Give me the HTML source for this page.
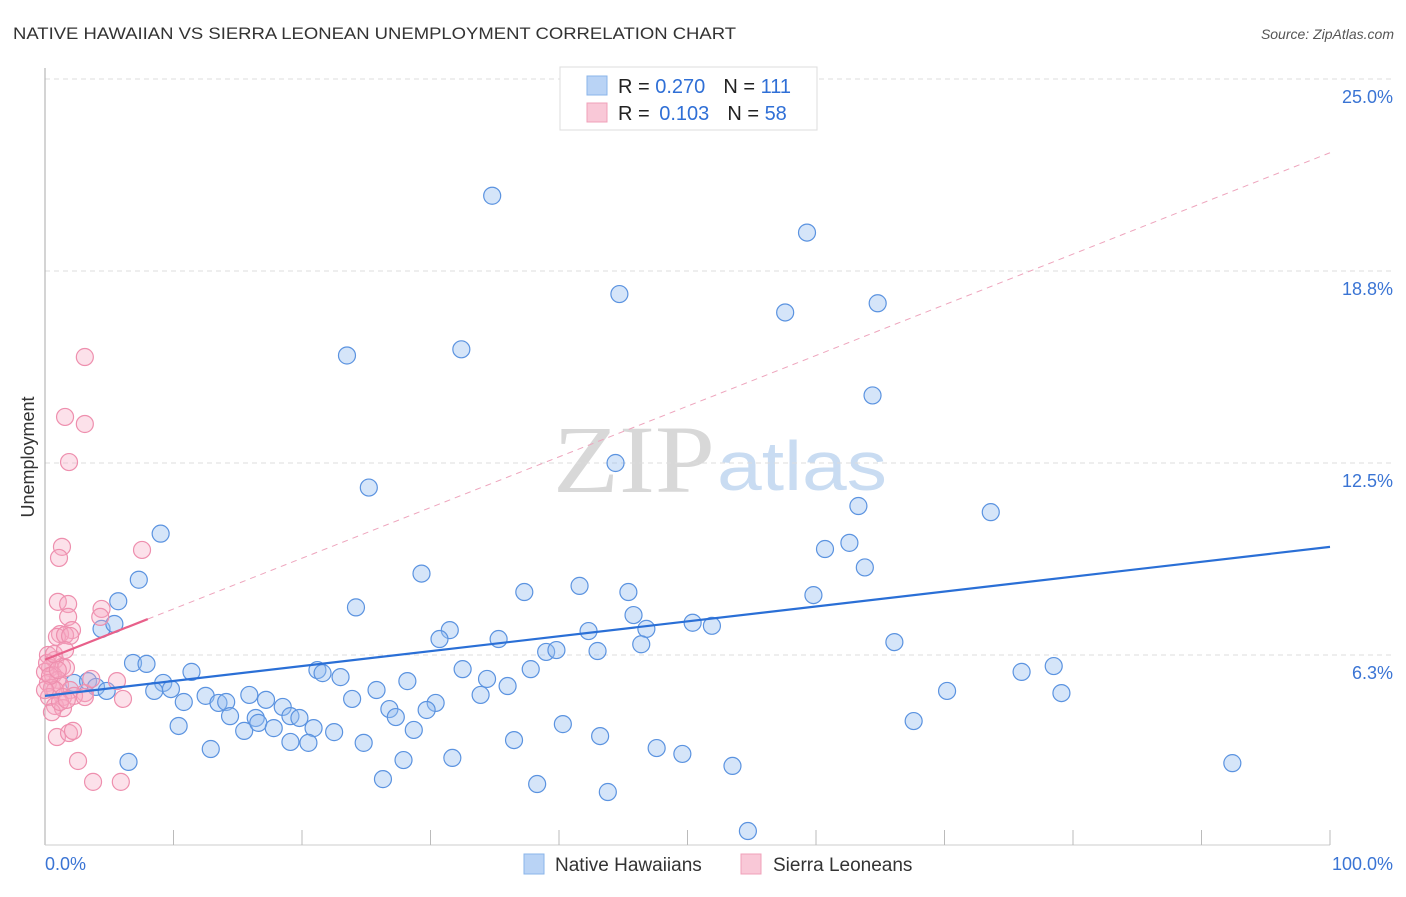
<!DOCTYPE html>
<html><head><meta charset="utf-8"><style>
body{margin:0;background:#fff;font-family:"Liberation Sans",sans-serif}
svg text{font-family:"Liberation Sans",sans-serif}
</style></head><body>
<svg id="chart" width="1406" height="892" xmlns="http://www.w3.org/2000/svg">
<text x="13" y="39" font-size="17" fill="#333" textLength="723" lengthAdjust="spacingAndGlyphs">NATIVE HAWAIIAN VS SIERRA LEONEAN UNEMPLOYMENT CORRELATION CHART</text>
<text x="1394" y="39" font-size="14" fill="#555" text-anchor="end" font-style="italic">Source: ZipAtlas.com</text>
<text transform="translate(34,457) rotate(-90)" font-size="18" fill="#333" text-anchor="middle">Unemployment</text>
<g>
<text x="553" y="492" font-size="96" fill="#d8d8d8" textLength="162" lengthAdjust="spacingAndGlyphs" style="font-family:'Liberation Serif',serif">ZIP</text>
<text x="717" y="490" font-size="70" fill="#c9dcf2" textLength="170" lengthAdjust="spacingAndGlyphs">atlas</text>
</g>
<g id="grid"></g><g id="axes"></g><g id="marks"></g><g id="lines"></g>
<g>
<rect x="560" y="67" width="257" height="63" fill="#fff" stroke="#ddd"/>
<rect x="587" y="76" width="20" height="19" fill="#b9d3f5" stroke="#8ab4ea"/>
<rect x="587" y="103" width="20" height="19" fill="#f9c8d7" stroke="#f0a0ba"/>
<text x="618" y="93" font-size="20" fill="#222">R = <tspan fill="#2f6fd6">0.270</tspan><tspan dx="18">N = </tspan><tspan fill="#2f6fd6">111</tspan></text>
<text x="618" y="120" font-size="20" fill="#222">R = <tspan dx="4" fill="#2f6fd6">0.103</tspan><tspan dx="18">N = </tspan><tspan fill="#2f6fd6">58</tspan></text>
</g>
<g>
<rect x="524" y="854" width="20" height="20" fill="#b9d3f5" stroke="#8ab4ea"/>
<text x="555" y="871" font-size="19" fill="#333">Native Hawaiians</text>
<rect x="741" y="854" width="20" height="20" fill="#f9c8d7" stroke="#f0a0ba"/>
<text x="773" y="871" font-size="19" fill="#333">Sierra Leoneans</text>
</g>
</svg>
<script>
const blueX=[34.8,59.3,44.7,57.6,64.8,23.5,32.4,64.4,44.4,25.2,63.3,73.6,9.0,60.7,62.6,63.8,7.3,29.3,37.3,41.6,45.4,5.7,24.2,59.8,45.8,4.4,5.4,31.5,30.7,35.3,42.3,46.8,50.4,51.9,46.4,66.1,39.0,39.8,43.0,6.85,7.9,11.4,21.2,21.6,23.0,32.5,34.4,37.8,76.0,78.5,2.26,3.35,3.97,4.8,9.2,8.5,9.8,10.8,12.5,13.5,14.1,15.9,17.2,18.5,23.9,25.8,28.2,30.4,33.9,36.0,70.2,79.1,14.4,16.4,19.1,19.8,26.8,27.3,29.7,10.4,15.5,16.6,17.8,20.9,22.5,28.7,40.3,67.6,12.9,19.1,20.5,24.8,36.5,43.2,47.6,49.6,6.5,27.9,31.7,53.5,92.4,26.3,38.3,43.8,54.7];
const blueY=[21.2,20.0,18.0,17.4,17.7,16.0,16.2,14.7,12.5,11.7,11.1,10.9,10.2,9.7,9.9,9.1,8.7,8.9,8.3,8.5,8.3,8.0,7.8,8.2,7.55,7.1,7.26,7.06,6.77,6.77,7.03,7.1,7.3,7.2,6.6,6.67,6.35,6.41,6.38,5.99,5.96,5.7,5.76,5.66,5.53,5.79,5.47,5.79,5.7,5.89,5.34,5.4,5.21,5.08,5.34,5.08,5.14,4.72,4.92,4.69,4.72,4.95,4.79,4.56,4.82,5.11,5.4,4.69,4.95,5.24,5.08,5.01,4.26,4.2,4.26,4.2,4.49,4.23,4.46,3.94,3.78,4.04,3.87,3.87,3.74,3.81,4.0,4.1,3.19,3.42,3.39,3.39,3.48,3.61,3.22,3.03,2.77,2.83,2.9,2.64,2.73,2.21,2.05,1.79,0.52];
const pinkX=[3.1,1.56,3.1,1.87,1.32,1.09,7.55,1.0,1.8,4.4,1.8,4.3,2.1,1.17,0.93,1.56,1.95,0.23,0.78,1.32,0.39,1.63,0,0.62,1.0,0.23,1.17,0.54,1.95,3.1,3.6,5.6,0.78,1.4,2.26,0.31,3.1,0.78,1.4,0.54,6.07,0.93,1.87,2.18,2.57,3.74,5.9,0.16,0.7,1.56,0.39,1.0,0,1.17,1.7];
const pinkY=[15.95,14.0,13.77,12.53,9.77,9.41,9.67,7.98,7.91,7.75,7.49,7.49,7.06,6.93,6.84,6.9,6.87,6.25,6.09,5.86,5.83,5.83,5.7,5.6,5.44,5.34,5.27,5.18,5.11,5.01,5.47,5.4,5.11,4.88,4.92,4.88,4.88,4.59,4.52,4.39,4.82,3.58,3.71,3.78,2.8,2.12,2.12,5.99,6.28,6.41,5.57,5.76,5.11,4.72,4.79];
const yTicks=[6.25,12.5,18.75,25];
const yTickLabels=["6.3%","12.5%","18.8%","25.0%"];
const xTickCount=10;
const blueTrend=[4.92,9.77];
const pinkTrend=[6.1,22.6];
const pinkSolidEnd=8;

const NS="http://www.w3.org/2000/svg";
const X0=45,X1=1330,Y0=847,PXPER=30.72;
const sx=v=>X0+(X1-X0)*v/100;
const sy=v=>Y0-v*PXPER;
function mk(tag,attrs,parent){const e=document.createElementNS(NS,tag);for(const k in attrs)e.setAttribute(k,attrs[k]);parent.appendChild(e);return e;}
const grid=document.getElementById('grid'),axes=document.getElementById('axes'),marks=document.getElementById('marks'),lines=document.getElementById('lines');
yTicks.forEach((t,i)=>{
  const l=mk('line',{x1:X0,x2:1394,y1:sy(t),y2:sy(t),stroke:'#ddd','stroke-dasharray':'5,4'},grid);
  
  
  const tx=mk('text',{x:1393,y:sy(t)+24,'font-size':18,fill:'#3a74d4','text-anchor':'end'},grid);
  tx.textContent=yTickLabels[i];
  
  
});
const ya=mk('line',{x1:X0,x2:X0,y1:68,y2:845,stroke:'#aaa'},axes);


const xa=mk('line',{x1:X0,x2:X1,y1:845,y2:845,stroke:'#ccc'},axes);


for(let i=1;i<=xTickCount;i++){
  const t=mk('line',{x1:sx(i*100/xTickCount),x2:sx(i*100/xTickCount),y1:830,y2:845,stroke:'#bbb'},axes);
  
  
}
const xl0=mk('text',{x:45,y:870,'font-size':18,fill:'#3a74d4'},axes);xl0.textContent='0.0%';


const xl1=mk('text',{x:1393,y:870,'font-size':18,fill:'#3a74d4','text-anchor':'end'},axes);xl1.textContent='100.0%';


blueX.forEach((x,i)=>{
  const c=mk('circle',{cx:sx(x),cy:sy(blueY[i]),r:8.5,fill:'rgba(150,190,240,0.4)',stroke:'#5b93e0','stroke-width':1.2},marks);
  
  
});
pinkX.forEach((x,i)=>{
  const c=mk('circle',{cx:sx(x),cy:sy(pinkY[i]),r:8.5,fill:'rgba(245,170,195,0.35)',stroke:'#ee8fae','stroke-width':1.2},marks);
  
  
});
const bt=mk('line',{x1:sx(0),y1:sy(blueTrend[0]),x2:sx(100),y2:sy(blueTrend[1]),stroke:'#2a6fd6','stroke-width':2.2},lines);


const pSlope=(pinkTrend[1]-pinkTrend[0])/100;
const pd=mk('line',{x1:sx(pinkSolidEnd),y1:sy(pinkTrend[0]+pSlope*pinkSolidEnd),x2:sx(100),y2:sy(pinkTrend[1]),stroke:'#eea5bd','stroke-width':1,'stroke-dasharray':'6,5'},lines);


const ps=mk('line',{x1:sx(0),y1:sy(pinkTrend[0]),x2:sx(pinkSolidEnd),y2:sy(pinkTrend[0]+pSlope*pinkSolidEnd),stroke:'#e8608a','stroke-width':2.2},lines);


</script>
</body></html>
